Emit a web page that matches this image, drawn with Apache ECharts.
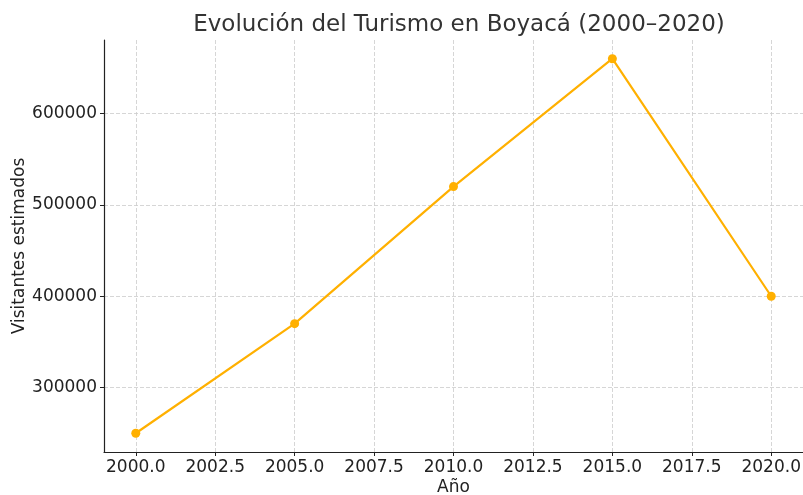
<!DOCTYPE html>
<html><head><meta charset="utf-8">
<script src="https://cdn.jsdelivr.net/npm/echarts@6/dist/echarts.min.js"></script>
<style>html,body{margin:0;padding:0;background:#fff}#c{width:803px;height:495px}</style>
</head><body><div id="c"></div>
<script>
const years = [2000, 2005, 2010, 2015, 2020];
const visitors = [250000, 370000, 520000, 660000, 400000];
const xTicks = [2000, 2002.5, 2005, 2007.5, 2010, 2012.5, 2015, 2017.5, 2020];
const yTicks = [300000, 400000, 500000, 600000];
const titleText = 'Evolución del Turismo en Boyacá (2000–2020)';
const xName = 'Año';
const yName = 'Visitantes estimados';

const font = 'DejaVu Sans';
const chart = echarts.init(document.getElementById('c'), null, {renderer: 'canvas'});
chart.setOption({
  animation: false,
  backgroundColor: '#fff',
  title: {text: titleText, left: 454, top: 9, textAlign: 'center',
    textStyle: {fontFamily: font, fontSize: 23, fontWeight: 'normal', color: '#333'}},
  grid: {left: 104, right: 0, top: 40, bottom: 43, containLabel: false, outerBoundsMode: 'none'},
  xAxis: {
    type: 'value', min: 1999, max: 2021,
    name: xName, nameLocation: 'middle', nameGap: 27, nameMoveOverlap: false,
    nameTextStyle: {fontFamily: font, fontSize: 17, color: '#222'},
    axisLine: {show: true, onZero: false, lineStyle: {color: '#222', width: 1.2}},
    axisTick: {show: true, length: 4, customValues: xTicks, lineStyle: {color: '#222'}},
    axisLabel: {customValues: xTicks, fontFamily: font, fontSize: 17, color: '#222', margin: 7,
      formatter: v => Number(v).toFixed(1)},
    splitLine: {show: true, lineStyle: {color: '#cccccc', type: [4, 2], width: 0.8}}
  },
  yAxis: {
    type: 'value', min: 229500, max: 680500,
    name: yName, nameLocation: 'middle', nameGap: 76, nameRotate: 90, nameMoveOverlap: false,
    nameTextStyle: {fontFamily: font, fontSize: 17, color: '#222'},
    axisLine: {show: true, onZero: false, lineStyle: {color: '#222', width: 1.2}},
    axisTick: {show: true, length: 4, customValues: yTicks, lineStyle: {color: '#222'}},
    axisLabel: {customValues: yTicks, fontFamily: font, fontSize: 17, color: '#222', margin: 7,
      formatter: v => String(v)},
    splitLine: {show: true, lineStyle: {color: '#cccccc', type: [4, 2], width: 0.8}}
  },
  series: [{
    type: 'line',
    data: years.map((y, i) => [y, visitors[i]]),
    symbol: 'circle', symbolSize: 9,
    lineStyle: {color: '#FFB000', width: 2.2},
    itemStyle: {color: '#FFB000'}
  }]
});
</script></body></html>
